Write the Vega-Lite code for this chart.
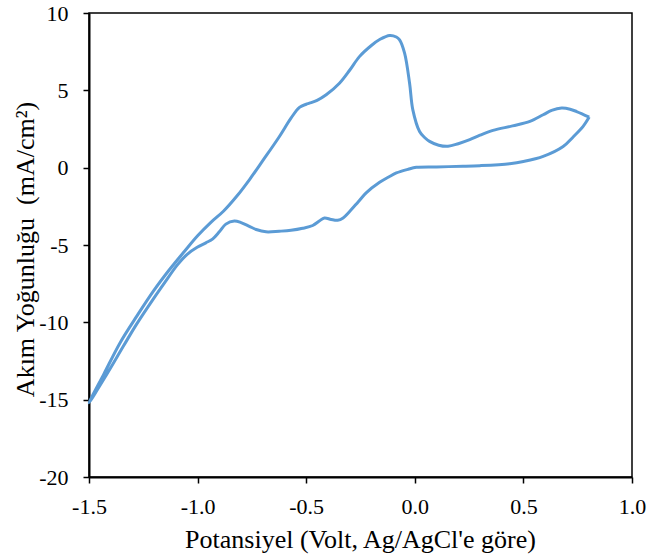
{
  "$schema": "https://vega.github.io/schema/vega-lite/v6.json",
  "autosize": {"type": "none"},
  "width": 543,
  "height": 464,
  "padding": {"left": 89, "top": 13, "right": 19, "bottom": 81},
  "background": "white",
  "config": {
    "view": {"stroke": "black", "strokeWidth": 1.5},
    "font": "'Liberation Serif', 'Times New Roman', serif",
    "axis": {
      "grid": false,
      "domainColor": "black",
      "domainWidth": 2,
      "tickColor": "black",
      "tickWidth": 1.5,
      "tickSize": 6,
      "labelFont": "'Liberation Serif', 'Times New Roman', serif",
      "labelFontSize": 22,
      "labelColor": "black",
      "titleFont": "'Liberation Serif', 'Times New Roman', serif",
      "titleFontSize": 26,
      "titleFontWeight": "normal",
      "titleColor": "black"
    }
  },
  "data": {
    "values": [
      {"i": 0, "x": 0.803, "y": 3.27},
      {"i": 1, "x": 0.775, "y": 2.67},
      {"i": 2, "x": 0.73, "y": 2.0},
      {"i": 3, "x": 0.683, "y": 1.37},
      {"i": 4, "x": 0.591, "y": 0.73},
      {"i": 5, "x": 0.5, "y": 0.4},
      {"i": 6, "x": 0.437, "y": 0.26},
      {"i": 7, "x": 0.3, "y": 0.13},
      {"i": 8, "x": 0.222, "y": 0.09},
      {"i": 9, "x": 0.1, "y": 0.05},
      {"i": 10, "x": 0.007, "y": 0.02},
      {"i": 11, "x": -0.03, "y": -0.1},
      {"i": 12, "x": -0.085, "y": -0.34},
      {"i": 13, "x": -0.12, "y": -0.6},
      {"i": 14, "x": -0.162, "y": -0.95},
      {"i": 15, "x": -0.224, "y": -1.63},
      {"i": 16, "x": -0.26, "y": -2.2},
      {"i": 17, "x": -0.301, "y": -2.85},
      {"i": 18, "x": -0.33, "y": -3.25},
      {"i": 19, "x": -0.355, "y": -3.4},
      {"i": 20, "x": -0.385, "y": -3.35},
      {"i": 21, "x": -0.416, "y": -3.25},
      {"i": 22, "x": -0.44, "y": -3.45},
      {"i": 23, "x": -0.47, "y": -3.74},
      {"i": 24, "x": -0.516, "y": -3.92},
      {"i": 25, "x": -0.57, "y": -4.05},
      {"i": 26, "x": -0.624, "y": -4.11},
      {"i": 27, "x": -0.685, "y": -4.15},
      {"i": 28, "x": -0.73, "y": -4.0},
      {"i": 29, "x": -0.762, "y": -3.79},
      {"i": 30, "x": -0.8, "y": -3.55},
      {"i": 31, "x": -0.831, "y": -3.45},
      {"i": 32, "x": -0.87, "y": -3.65},
      {"i": 33, "x": -0.9, "y": -4.15},
      {"i": 34, "x": -0.93, "y": -4.6},
      {"i": 35, "x": -0.962, "y": -4.86},
      {"i": 36, "x": -1.002, "y": -5.15},
      {"i": 37, "x": -1.048, "y": -5.6},
      {"i": 38, "x": -1.094, "y": -6.3},
      {"i": 39, "x": -1.15, "y": -7.4},
      {"i": 40, "x": -1.202, "y": -8.45},
      {"i": 41, "x": -1.28, "y": -10.1},
      {"i": 42, "x": -1.34, "y": -11.5},
      {"i": 43, "x": -1.42, "y": -13.4},
      {"i": 44, "x": -1.5, "y": -15.2},
      {"i": 45, "x": -1.43, "y": -13.3},
      {"i": 46, "x": -1.356, "y": -11.3},
      {"i": 47, "x": -1.28, "y": -9.6},
      {"i": 48, "x": -1.202, "y": -7.95},
      {"i": 49, "x": -1.13, "y": -6.6},
      {"i": 50, "x": -1.06, "y": -5.4},
      {"i": 51, "x": -1.0, "y": -4.4},
      {"i": 52, "x": -0.94, "y": -3.55},
      {"i": 53, "x": -0.88, "y": -2.8},
      {"i": 54, "x": -0.82, "y": -1.85},
      {"i": 55, "x": -0.76, "y": -0.75},
      {"i": 56, "x": -0.7, "y": 0.45},
      {"i": 57, "x": -0.624, "y": 2.0},
      {"i": 58, "x": -0.57, "y": 3.2},
      {"i": 59, "x": -0.531, "y": 3.9},
      {"i": 60, "x": -0.5, "y": 4.1},
      {"i": 61, "x": -0.485, "y": 4.17},
      {"i": 62, "x": -0.45, "y": 4.35},
      {"i": 63, "x": -0.408, "y": 4.71},
      {"i": 64, "x": -0.347, "y": 5.46},
      {"i": 65, "x": -0.3, "y": 6.3},
      {"i": 66, "x": -0.255, "y": 7.18},
      {"i": 67, "x": -0.2, "y": 7.9},
      {"i": 68, "x": -0.16, "y": 8.3},
      {"i": 69, "x": -0.116, "y": 8.55},
      {"i": 70, "x": -0.085, "y": 8.45},
      {"i": 71, "x": -0.07, "y": 8.26},
      {"i": 72, "x": -0.047, "y": 7.4},
      {"i": 73, "x": -0.024, "y": 5.46},
      {"i": 74, "x": -0.009, "y": 3.74},
      {"i": 75, "x": 0.022, "y": 2.34},
      {"i": 76, "x": 0.045, "y": 1.95},
      {"i": 77, "x": 0.068, "y": 1.7},
      {"i": 78, "x": 0.11, "y": 1.45},
      {"i": 79, "x": 0.153, "y": 1.38},
      {"i": 80, "x": 0.2, "y": 1.55},
      {"i": 81, "x": 0.253, "y": 1.81},
      {"i": 82, "x": 0.3, "y": 2.1},
      {"i": 83, "x": 0.36, "y": 2.41},
      {"i": 84, "x": 0.45, "y": 2.7},
      {"i": 85, "x": 0.53, "y": 2.99},
      {"i": 86, "x": 0.591, "y": 3.42},
      {"i": 87, "x": 0.63, "y": 3.7},
      {"i": 88, "x": 0.676, "y": 3.85},
      {"i": 89, "x": 0.715, "y": 3.78},
      {"i": 90, "x": 0.745, "y": 3.63},
      {"i": 91, "x": 0.803, "y": 3.27}
    ]
  },
  "mark": {"type": "line", "color": "#5B9BD5", "strokeWidth": 3, "interpolate": "catmull-rom", "clip": false},
  "encoding": {
    "order": {"field": "i", "type": "quantitative"},
    "x": {
      "field": "x", "type": "quantitative",
      "scale": {"domain": [-1.5, 1.0], "nice": false, "zero": false},
      "axis": {
        "values": [-1.5, -1.0, -0.5, 0.0, 0.5, 1.0],
        "format": ".1f",
        "labelExpr": "replace(datum.label, '\u2212', '-')",
        "labelPadding": 13,
        "labelFlush": false,
        "title": "Potansiyel (Volt, Ag/AgCl'e göre)",
        "titleX": 271,
        "titleY": 70,
        "titleAlign": "center",
        "titleBaseline": "alphabetic"
      }
    },
    "y": {
      "field": "y", "type": "quantitative",
      "scale": {"domain": [-20, 10], "nice": false, "zero": false},
      "axis": {
        "values": [-20, -15, -10, -5, 0, 5, 10],
        "format": "d",
        "labelExpr": "replace(datum.label, '\u2212', '-')",
        "labelPadding": 15,
        "labelFlush": false,
        "title": "Akım Yoğunluğu\u00a0 (mA/cm²)",
        "titleX": -56,
        "titleY": 236,
        "titleAngle": -90,
        "titleAlign": "center",
        "titleBaseline": "alphabetic"
      }
    }
  }
}
